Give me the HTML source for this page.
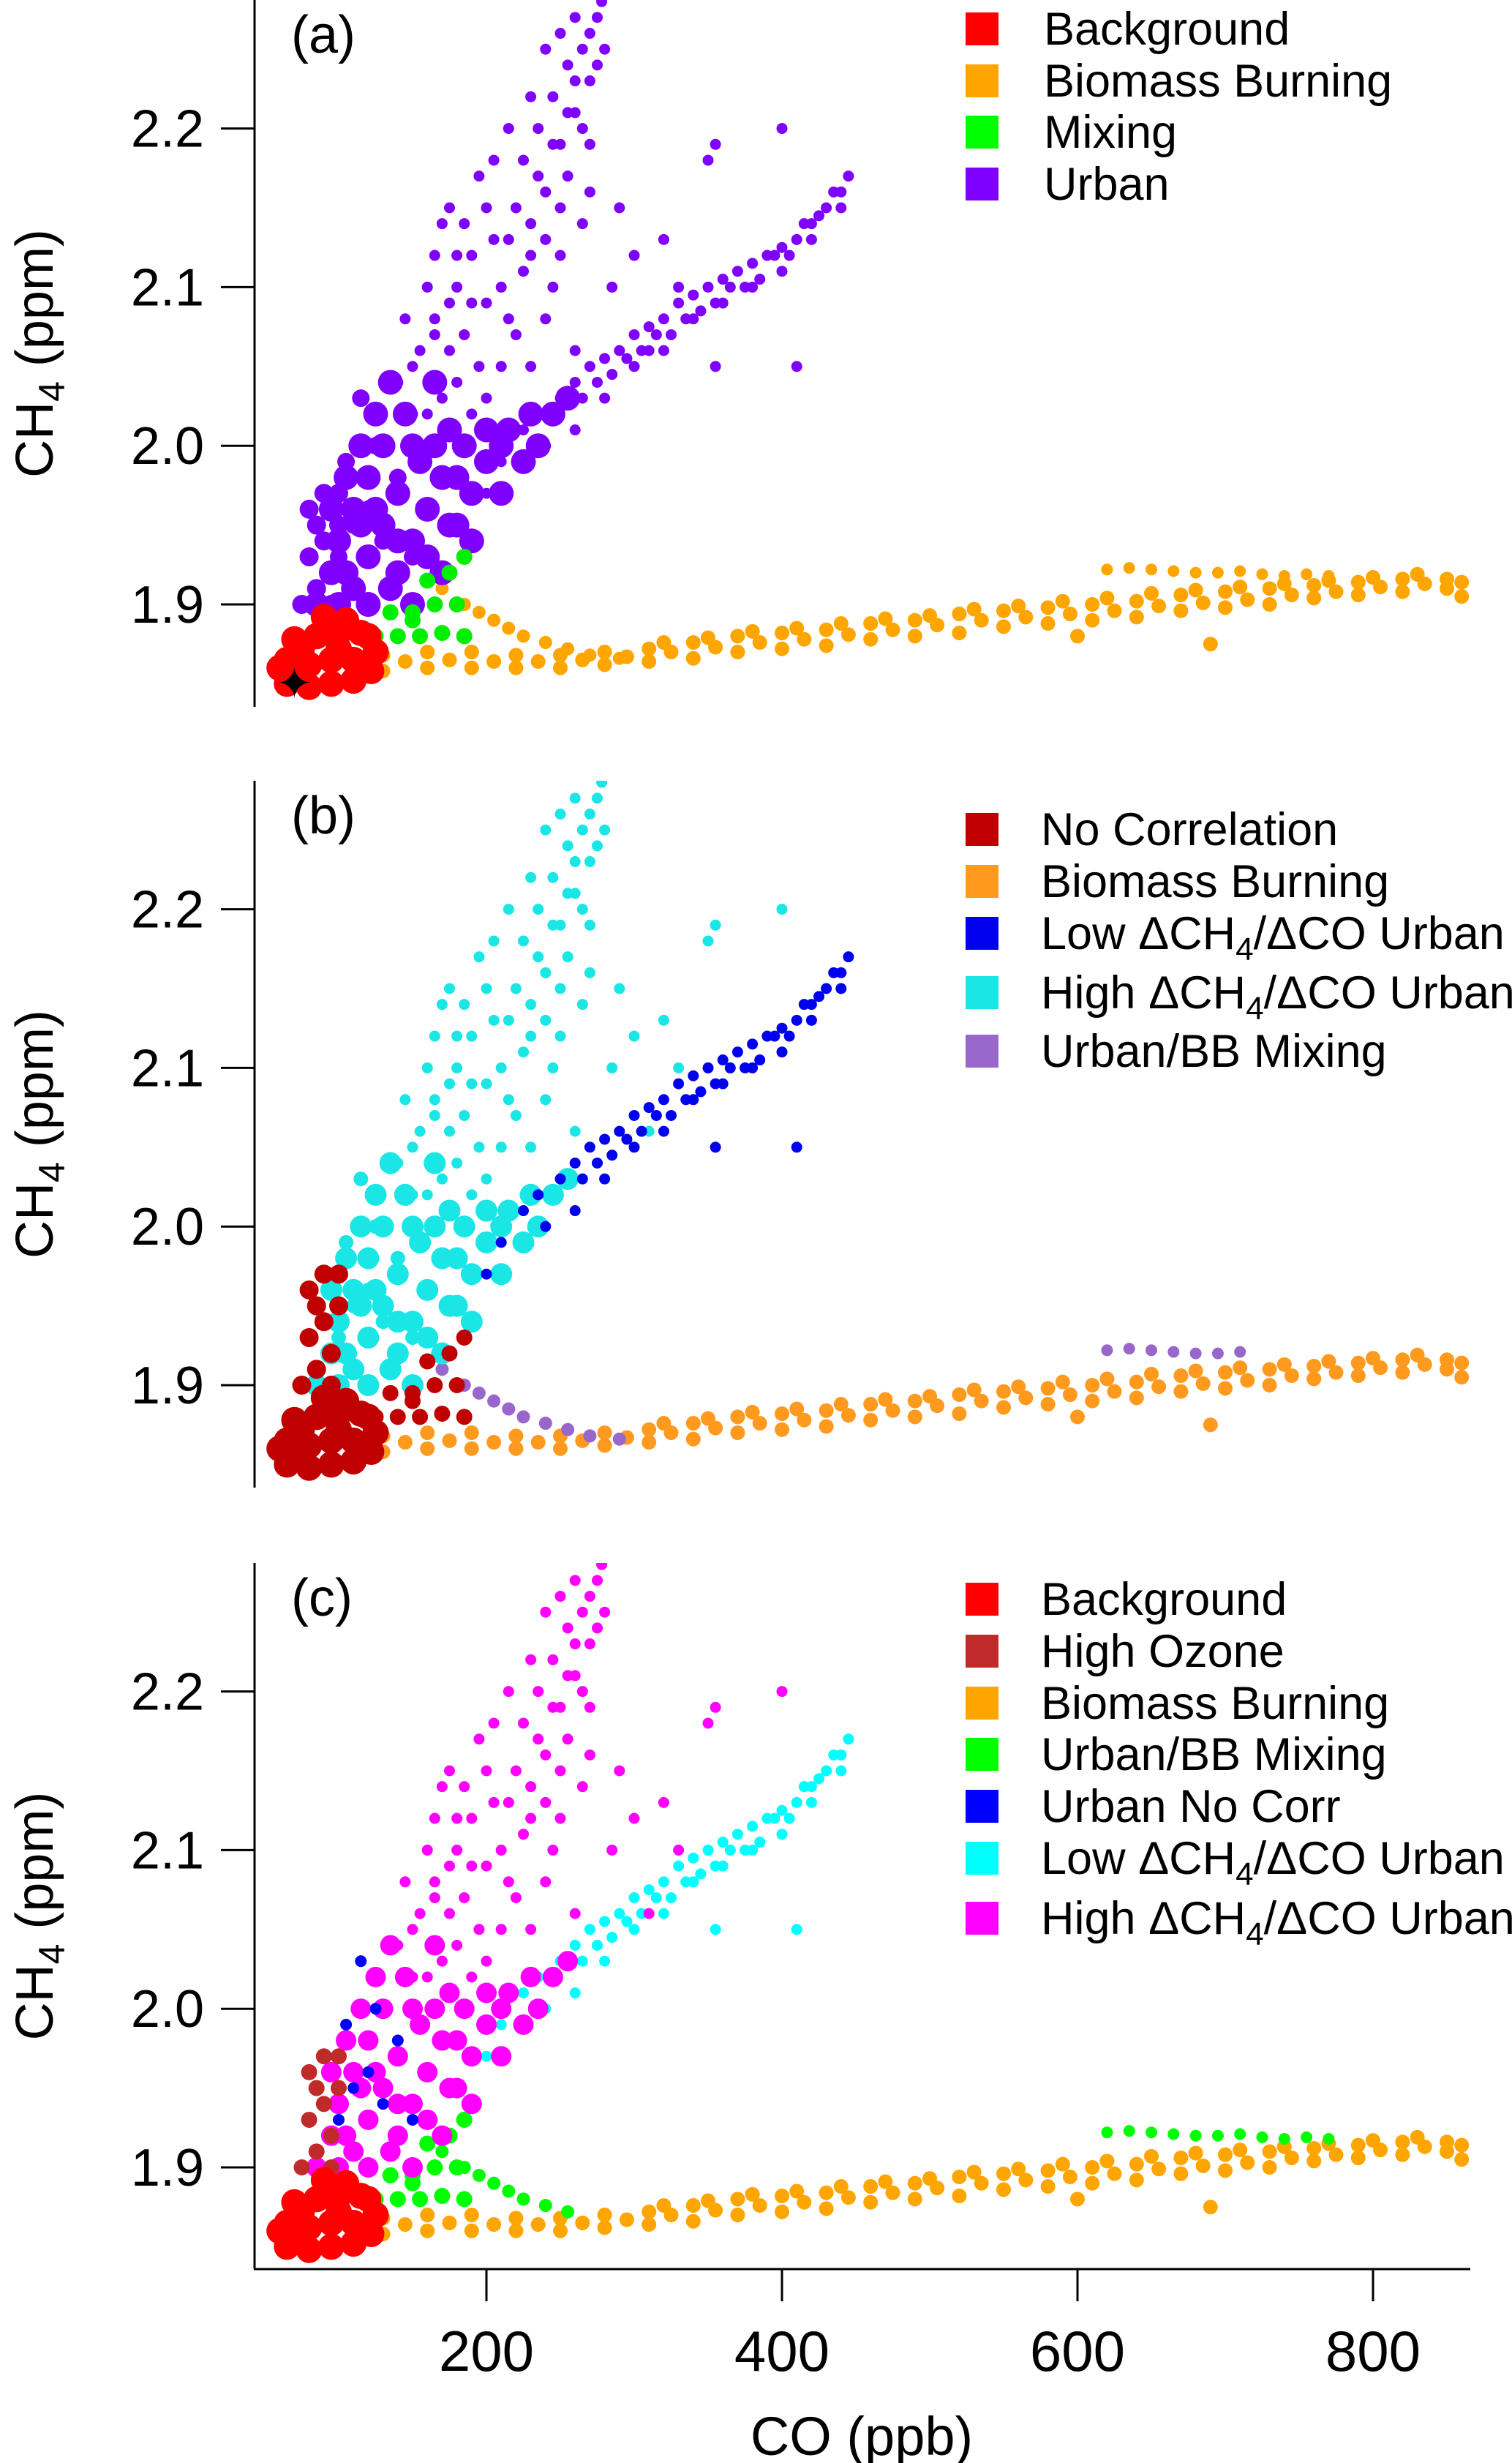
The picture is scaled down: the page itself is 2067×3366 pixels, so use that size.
<!DOCTYPE html>
<html><head><meta charset="utf-8">
<style>
html,body{margin:0;padding:0;background:#fff;}
svg{display:block;font-family:"Liberation Sans",sans-serif;}
</style></head>
<body>
<svg id="chart" width="2067" height="3366" viewBox="0 0 2067 3366" xmlns="http://www.w3.org/2000/svg"></svg>
<script>
// ---- data (CO ppb, CH4 ppm) ----
const bgCO=[65,80,95,110,122,65,80,95,110,125,70,85,100,115,90,105,60,120,75,100,70];
const bgCH4=[1.85,1.848,1.85,1.852,1.858,1.865,1.862,1.865,1.865,1.87,1.878,1.88,1.882,1.882,1.892,1.89,1.86,1.88,1.872,1.872,1.855];
const bbCO=[130,130,160,160,190,190,220,220,250,250,280,280,310,310,340,340,370,370,400,400,430,430,460,460,490,490,520,520,550,550,580,580,610,610,640,640,670,670,700,700,730,730,760,760,790,790,820,820,850,850,690,860,600,
 145,175,205,235,265,295,325,355,385,415,445,475,505,535,565,595,625,655,685,715,745,775,805,835,860,
 320,350,380,410,440,470,500,530,560,590,620,650,680,710,740,770,800,830];
const bbCH4=[1.858,1.868,1.86,1.87,1.86,1.87,1.86,1.868,1.86,1.868,1.862,1.87,1.864,1.872,1.866,1.876,1.87,1.88,1.872,1.882,1.874,1.884,1.878,1.888,1.88,1.89,1.882,1.894,1.886,1.896,1.888,1.898,1.89,1.9,1.892,1.902,1.896,1.906,1.898,1.908,1.9,1.91,1.904,1.912,1.906,1.914,1.908,1.916,1.91,1.916,1.875,1.905,1.88,
 1.864,1.865,1.864,1.864,1.865,1.867,1.87,1.873,1.876,1.878,1.881,1.884,1.887,1.89,1.892,1.894,1.896,1.899,1.901,1.903,1.906,1.908,1.911,1.913,1.914,
 1.876,1.879,1.883,1.885,1.888,1.891,1.893,1.897,1.899,1.902,1.904,1.907,1.909,1.911,1.913,1.915,1.917,1.919];
const upCO=[620,635,650,665,680,695,710,725,740,755,770,800,830];
const upCH4=[1.922,1.923,1.922,1.921,1.92,1.92,1.921,1.919,1.918,1.919,1.918,1.918,1.918];
const mbCO=[170,185,195,205,215,225,240,255,270,290];
const mbCH4=[1.91,1.9,1.895,1.89,1.885,1.88,1.876,1.872,1.868,1.866];
const mcCO=[125,140,155,170,185,135,150,165,180,160,175,185,150];
const mcCH4=[1.88,1.88,1.88,1.882,1.88,1.895,1.895,1.9,1.9,1.915,1.92,1.93,1.89];
const udCO=[85,95,100,110,110,120,120,130,130,140,140,145,150,155,160,165,170,175,180,185,190,200,210,215,225,235,245,255,100,120,135,160,
 150,170,95,105,115,125,135,150,165,180,200,190,175,210,230,140,115,105,125];
const udCH4=[1.9,1.92,1.94,1.91,1.96,1.93,1.98,1.95,2.0,1.92,1.97,2.02,1.94,1.99,1.96,2.04,1.98,2.01,1.95,2.0,1.97,1.99,1.97,2.01,1.99,2.0,2.02,2.03,1.9,1.9,1.91,1.93,
 1.9,1.92,1.96,1.98,2.0,2.02,2.04,2.0,2.0,1.98,2.01,1.94,1.95,2.0,2.02,1.94,1.95,1.92,1.96];
const uhCO=[150,160,165,170,175,180,190,195,200,210,215,220,225,230,235,240,245,250,255,260,265,270,275,278,280,250,265,240,285,300,310,330,350,355,400,260,200,185,180,175,190,205,145,160,
 155,165,175,185,195,205,215,230,240,250,260,270,220,200,210,230,245,255,270,290,320,170,190,230,150,140,
 235,245,255,265,275,260,250,240,270,225,215,180,165];
const uhCH4=[2.05,2.1,2.08,2.14,2.06,2.12,2.09,2.05,2.15,2.1,2.13,2.07,2.18,2.12,2.2,2.16,2.22,2.19,2.24,2.21,2.25,2.23,2.27,2.28,2.25,2.12,2.14,2.08,2.1,2.12,2.06,2.1,2.18,2.19,2.2,2.06,2.03,2.07,2.04,2.09,2.12,2.18,2.08,2.02,
 2.06,2.12,2.15,2.14,2.17,2.13,2.2,2.22,2.25,2.26,2.27,2.26,2.15,2.09,2.05,2.05,2.1,2.17,2.19,2.15,2.13,2.03,2.02,2.14,2.02,2.04,
 2.17,2.19,2.21,2.2,2.24,2.23,2.15,2.13,2.16,2.11,2.08,2.1,2.07];
const ulCO=[250,260,270,280,290,300,310,320,330,340,350,360,370,380,390,400,410,420,430,440,445,415,395,375,355,335,315,295,275,225,235,210,200,410,355,
 240,260,280,300,320,340,360,380,400,420,440,265,285,305,325,345,365,385,405,425,435];
const ulCH4=[2.03,2.04,2.05,2.055,2.06,2.07,2.075,2.08,2.09,2.095,2.1,2.105,2.11,2.115,2.12,2.125,2.13,2.14,2.15,2.16,2.17,2.14,2.12,2.1,2.09,2.08,2.07,2.055,2.04,2.01,2.02,1.99,1.97,2.05,2.05,
 2.0,2.01,2.03,2.05,2.06,2.08,2.09,2.1,2.11,2.13,2.15,2.03,2.045,2.06,2.07,2.085,2.1,2.105,2.12,2.145,2.16];
const luCO=[75,80,85,90,95,100,85,95,80,90,100];
const luCH4=[1.9,1.93,1.95,1.97,1.92,1.95,1.91,1.9,1.96,1.94,1.97];
const bsCO=[100,110,120,130,115,140,150,125,105];
const bsCH4=[1.93,1.95,1.96,1.94,2.03,1.98,1.93,2.0,1.99];
const yTicks=[1.9,2.0,2.1,2.2];
const yTickLabels=["1.9","2.0","2.1","2.2"];
const xTicks=[200,400,600,800];
const xTickLabels=["200","400","600","800"];

const svg=document.getElementById('chart');
const NS='http://www.w3.org/2000/svg';
function mk(tag,attrs,parent){const e=document.createElementNS(NS,tag);for(const k in attrs)e.setAttribute(k,attrs[k]);(parent||svg).appendChild(e);return e;}
const xS=co=>261+2.02*co;
const panels=[
 {name:'a',y19:826,top:0,bot:966,label:'(a)',
  series:[[bbCO,bbCH4,'#ffa500',10],[upCO,upCH4,'#ffa500',8],[mbCO,mbCH4,'#ffa500',9],
   [udCO,udCH4,'#8000ff',17],[uhCO,uhCH4,'#8000ff',7.5],[ulCO,ulCH4,'#8000ff',7.5],[luCO,luCH4,'#8000ff',13],[bsCO,bsCH4,'#8000ff',12],
   [mcCO,mcCH4,'#00ee00',11],[bgCO,bgCH4,'#ff0000',18]],
  legend:[['#ff0000','Background'],['#ffa500','Biomass Burning'],['#00ff00','Mixing'],['#8000ff','Urban']],
  rows:[39,110,180,251],tx:1427},
 {name:'b',y19:1893,top:1067,bot:2033,label:'(b)',
  series:[[bbCO,bbCH4,'#ff9a1e',10],[upCO.slice(0,7),upCH4.slice(0,7),'#9966cc',8],[mbCO,mbCH4,'#9966cc',9],
   [udCO,udCH4,'#1ae6e6',15],[uhCO,uhCH4,'#1ae6e6',7.5],[ulCO,ulCH4,'#0000ee',7.5],[bsCO,bsCH4,'#1ae6e6',10],
   [luCO,luCH4,'#c00000',13],[mcCO,mcCH4,'#c00000',11],[bgCO,bgCH4,'#c00000',18]],
  legend:[['#c00000','No Correlation'],['#ff9a1e','Biomass Burning'],['#0000ee','Low ΔCH|4|/ΔCO Urban'],['#1ae6e6','High ΔCH|4|/ΔCO Urban'],['#9966cc','Urban/BB Mixing']],
  rows:[1133,1204,1275,1356,1436],tx:1423},
 {name:'c',y19:2962,top:2136,bot:3101,label:'(c)',
  series:[[bbCO,bbCH4,'#ffa500',10],[upCO.slice(0,11),upCH4.slice(0,11),'#00ff00',8],[mbCO.slice(0,8),mbCH4.slice(0,8),'#00ff00',9],[mcCO,mcCH4,'#00ff00',11],
   [ulCO,ulCH4,'#00ffff',7.5],[udCO,udCH4,'#ff00ff',14],[uhCO,uhCH4,'#ff00ff',7.5],[bsCO,bsCH4,'#0000ff',8],
   [luCO,luCH4,'#c02a2a',11],[bgCO,bgCH4,'#ff0000',18]],
  legend:[['#ff0000','Background'],['#c02a2a','High Ozone'],['#ffa500','Biomass Burning'],['#00ff00','Urban/BB Mixing'],['#0000ff','Urban No Corr'],['#00ffff','Low ΔCH|4|/ΔCO Urban'],['#ff00ff','High ΔCH|4|/ΔCO Urban']],
  rows:[2185,2256,2327,2397,2468,2539,2621],tx:1423}
];
panels.forEach(p=>{
 const g=mk('g',{});
 
 
 const yS=v=>p.y19-(v-1.9)*2168;
 const cp=mk('clipPath',{id:'clip'+p.name},g);
 mk('rect',{x:350,y:p.top,width:1660,height:p.bot-p.top},cp);
 const pts=mk('g',{'clip-path':'url(#clip'+p.name+')'},g);
 
 
 p.series.forEach(s=>{
  for(let i=0;i<s[0].length;i++){
   const c=mk('circle',{cx:xS(s[0][i]),cy:yS(s[1][i]),r:s[3],fill:s[2]},pts);
   
   
  }
 });
 const ax=mk('line',{x1:348,x2:348,y1:p.top,y2:p.bot,stroke:'#000','stroke-width':3},g);
 
 
 yTicks.forEach((t,i)=>{
  mk('line',{x1:302,x2:348,y1:yS(t),y2:yS(t),stroke:'#000','stroke-width':3},g);
  const tl=mk('text',{x:279,y:yS(t)+25,'text-anchor':'end','font-size':72},g);
  tl.textContent=yTickLabels[i];
  
  
 });
 const cy=(p.top+p.bot)/2;
 const yt=mk('text',{x:0,y:0,'font-size':72,'text-anchor':'middle',transform:'translate(72,'+cy+') rotate(-90)'},g);
 yt.innerHTML='CH<tspan font-size="50" dy="16">4</tspan><tspan dy="-16"> (ppm)</tspan>';
 
 
 const pl=mk('text',{x:398,y:p.top+72,'font-size':72},g);
 pl.textContent=p.label;
 
 
 p.legend.forEach((l,i)=>{
  const r=p.rows[i];
  const sq=mk('rect',{x:1320,y:r-22,width:45,height:45,fill:l[0]},g);
  
  
  const t=mk('text',{x:p.tx,y:r+22,'font-size':63},g);
  const parts=l[1].split('|');
  t.innerHTML=parts.length>1?parts[0]+'<tspan font-size="44" dy="15">'+parts[1]+'</tspan><tspan dy="-15">'+parts[2]+'</tspan>':l[1];
  
  
 });
});
const xa=mk('line',{x1:347,x2:2010,y1:3101,y2:3101,stroke:'#000','stroke-width':3});


xTicks.forEach((t,i)=>{
 mk('line',{x1:xS(t),x2:xS(t),y1:3101,y2:3145,stroke:'#000','stroke-width':3});
 const tl=mk('text',{x:xS(t),y:3240,'text-anchor':'middle','font-size':78});
 tl.textContent=xTickLabels[i];
 
 
});
const xt=mk('text',{x:1178,y:3355,'text-anchor':'middle','font-size':74});
xt.textContent='CO (ppb)';


const st=mk('text',{x:xS(70),y:826-(1.85-1.9)*2168+20,'text-anchor':'middle','font-size':60,fill:'#000'});
st.textContent='✦';


</script>
</body></html>
